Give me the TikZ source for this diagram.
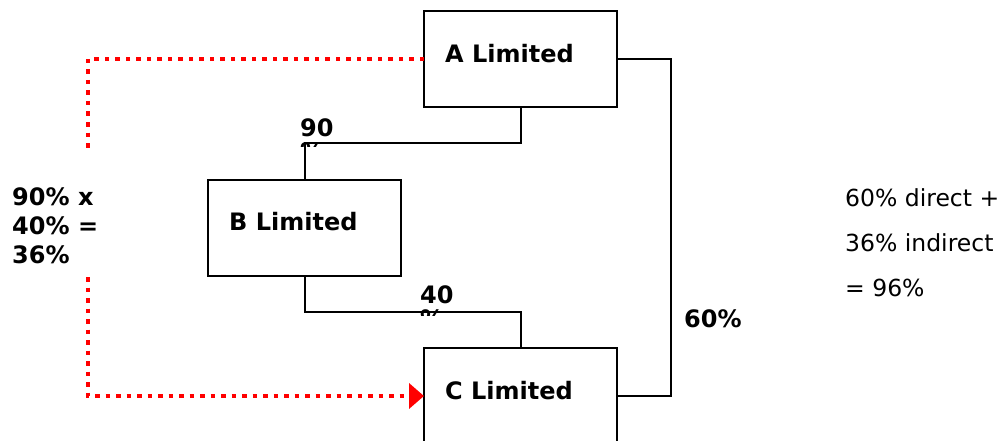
\documentclass[tikz,border=0pt]{standalone}
\usepackage{fontspec}
\setmainfont{DejaVu Sans}
\usetikzlibrary{arrows.meta}
\begin{document}
\begin{tikzpicture}[x=1pt,y=-1pt,
  box/.style={draw,line width=2pt,minimum width=193pt,minimum height=96pt,inner sep=0pt,outer sep=0pt,anchor=north west},
  boxname/.style={font=\fontsize{24}{28}\selectfont\bfseries,anchor=base west,inner sep=0pt},
  link/.style={draw,line width=2pt},
  pct/.style={font=\fontsize{24}{24}\selectfont\bfseries,align=left,anchor=north west,inner sep=0pt},
  reddot/.style={draw=red,line width=4.5pt,dash pattern=on 4.5pt off 6pt},
  note/.style={align=left,anchor=north west,inner sep=0pt}]
\clip (0,0) rectangle (1003,441);
% the three companies
\node[box] (A) at (424,11) {};
\node[box] (B) at (208,180) {};
\node[box] (C) at (424,348) {};
\node[boxname] (At) at (445,63) {A Limited};
\node[boxname] (Bt) at (229,230) {B Limited};
\node[boxname] (Ct) at (445,399) {C Limited};
% ownership links
\draw[link] (A.east) -- ++(54,0) |- (C.east);
\draw[link] (A.south) -- ++(0,36) -| (B.north);
\draw[link] (B.south) -- ++(0,36) -| (C.north);
% holding percentages (text frames cut off below the first line)
\begin{scope}
  \clip (280,100) rectangle (370,146);
  \node[pct] (p90) at (300,118) {90\\\%};
\end{scope}
\begin{scope}
  \clip (400,270) rectangle (480,315);
  \node[pct] (p40) at (420,285) {40\\\%};
\end{scope}
\node[boxname] (p60) at (684,327) {60\%};
% indirect holding route
\coordinate (r1) at (88,153);
\coordinate (r2) at (88,277);
\draw[reddot] (A.west) -| (r1);
\draw[reddot,-{Triangle[length=15pt,width=25pt]}] (r2) |- (C.west);
\node[note,font=\fontsize{24}{29}\selectfont\bfseries] (calc) at (12,187) {90\% x\\40\% =\\36\%};
\node[note,font=\fontsize{23.5}{45}\selectfont] (total) at (845,188) {60\% direct +\\36\% indirect\\= 96\%};
\end{tikzpicture}
\end{document}
